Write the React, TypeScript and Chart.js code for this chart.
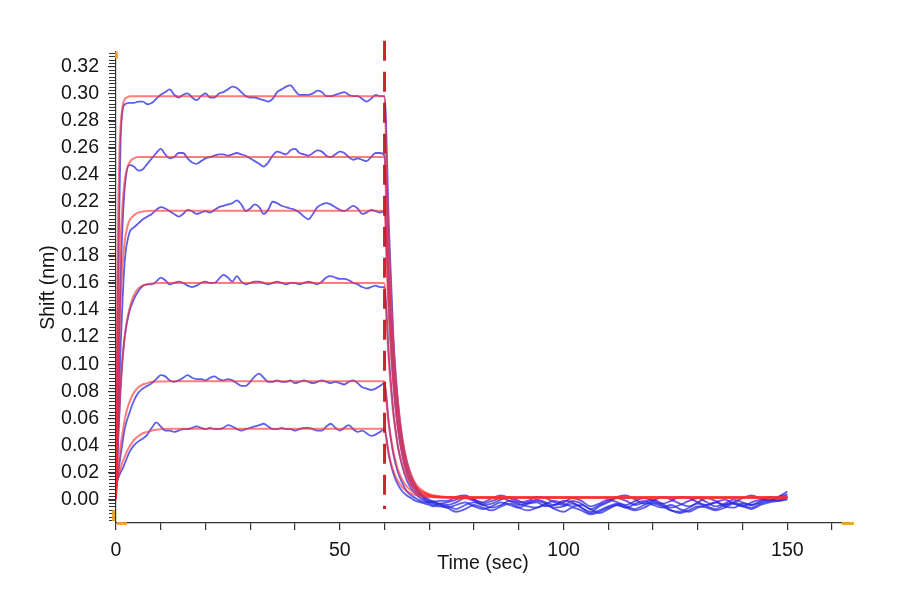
import React, { useEffect, useRef } from "react";
import { Chart, registerables } from "chart.js";

Chart.register(...registerables);

// ---- axis setup (values) ----
const X_MIN = 0;
const X_MAX = 164;
const Y_MIN = -0.0173;
const Y_MAX = 0.3306;
const X_LABELS = [0, 50, 100, 150];
const DISSOC_START = 60;
const DASH_TOP = 0.339;
const DASH_BOTTOM = -0.007;

// ---- raw sensorgram times (sec) ----
const RAW_T = [0,0.5,1,1.5,2,3,4,5,6,7,8,9,10,11,12,13,14,15,16,17,18,19,20,21,22,23,24,25,26,27,28,29,30,31,32,33,34,35,36,37,38,39,40,41,42,43,44,45,46,47,48,49,50,51,52,53,54,55,56,57,58,59,60,
  61,62,63,64,65,66,67,68,69,70,71,72,
  74,76,78,80,82,84,86,88,90,92,94,96,98,100,102,104,106,108,110,112,114,116,118,120,122,124,126,128,130,132,134,136,138,140,142,144,146,148,150];

// ---- raw responses (nm) ----
const RAW_A = [0.004,0.17,0.262,0.288,0.292,
  0.293,0.293,0.294,0.294,0.292,0.293,0.296,0.299,0.301,0.303,
  0.299,0.297,0.299,0.300,0.297,0.295,0.298,0.300,0.297,0.297,
  0.300,0.301,0.303,0.305,0.304,0.301,0.298,0.297,0.297,0.296,
  0.295,0.294,0.296,0.301,0.303,0.305,0.306,0.302,0.299,0.299,
  0.299,0.300,0.302,0.301,0.298,0.298,0.299,0.300,0.301,0.299,
  0.298,0.298,0.296,0.294,0.296,0.299,0.298,0.298,
  0.200,0.118,0.072,0.044,0.028,0.017,0.010,0.005,0.002,0.000,-0.002,-0.003,
  -0.004,-0.002,0.001,-0.001,-0.004,-0.003,0.000,0.002,-0.001,-0.003,-0.002,-0.005,-0.004,-0.001,-0.002,-0.006,-0.009,-0.005,-0.002,0.001,-0.001,-0.004,-0.002,0.000,-0.003,-0.006,-0.004,-0.001,0.001,-0.002,-0.005,-0.003,0.000,-0.002,-0.004,-0.001,0.001,0.002,0.004];

const RAW_B = [0.003,0.09,0.16,0.205,0.232,
  0.247,0.246,0.243,0.244,0.248,0.252,0.256,0.259,0.255,0.252,
  0.253,0.256,0.256,0.252,0.249,0.248,0.250,0.252,0.253,0.254,
  0.255,0.255,0.254,0.255,0.256,0.255,0.254,0.252,0.250,0.248,
  0.246,0.249,0.254,0.257,0.256,0.255,0.258,0.259,0.256,0.255,
  0.254,0.256,0.258,0.257,0.254,0.253,0.255,0.257,0.256,0.253,
  0.251,0.252,0.251,0.250,0.253,0.256,0.256,0.254,
  0.165,0.100,0.061,0.038,0.023,0.014,0.008,0.004,0.001,-0.001,-0.002,-0.001,
  -0.001,0.002,0.003,0.000,-0.002,0.001,0.003,0.001,-0.002,-0.001,0.002,0.001,-0.002,-0.004,-0.001,-0.003,-0.007,-0.004,-0.001,0.002,0.003,0.000,-0.003,-0.001,0.002,0.000,-0.003,-0.005,-0.002,0.001,-0.001,-0.004,-0.002,0.001,0.003,0.001,-0.001,0.002,0.006];

const RAW_C = [0.002,0.06,0.11,0.15,0.178,
  0.197,0.201,0.204,0.207,0.209,0.211,0.214,0.216,0.215,0.213,
  0.211,0.209,0.211,0.214,0.213,0.211,0.212,0.213,0.212,0.214,
  0.216,0.217,0.218,0.219,0.221,0.218,0.213,0.215,0.218,0.216,
  0.211,0.214,0.220,0.219,0.217,0.216,0.215,0.214,0.212,0.209,
  0.207,0.211,0.216,0.218,0.219,0.218,0.216,0.214,0.213,0.215,
  0.217,0.215,0.211,0.212,0.214,0.213,0.212,0.213,
  0.140,0.085,0.052,0.032,0.019,0.011,0.006,0.003,0.000,-0.002,-0.003,-0.004,
  -0.006,-0.004,-0.002,-0.005,-0.007,-0.005,-0.002,-0.004,-0.006,-0.003,-0.001,-0.003,-0.006,-0.005,-0.003,-0.006,-0.010,-0.008,-0.005,-0.003,-0.005,-0.007,-0.004,-0.002,-0.004,-0.008,-0.009,-0.006,-0.003,-0.005,-0.007,-0.004,-0.002,-0.004,-0.006,-0.003,-0.001,0.000,0.002];

const RAW_D = [0.002,0.045,0.08,0.105,0.122,
  0.139,0.148,0.154,0.158,0.159,0.159,0.161,0.164,0.162,0.159,
  0.160,0.161,0.160,0.158,0.157,0.158,0.160,0.161,0.160,0.160,
  0.163,0.166,0.164,0.161,0.165,0.161,0.159,0.160,0.161,0.161,
  0.160,0.159,0.160,0.161,0.160,0.159,0.160,0.160,0.159,0.160,
  0.161,0.160,0.159,0.161,0.164,0.165,0.164,0.163,0.163,0.162,
  0.160,0.159,0.157,0.156,0.157,0.158,0.157,0.157,
  0.105,0.064,0.039,0.024,0.014,0.008,0.004,0.001,-0.001,-0.003,-0.004,-0.005,
  -0.005,-0.007,-0.004,-0.002,-0.004,-0.006,-0.004,-0.001,-0.003,-0.005,-0.006,-0.003,-0.001,-0.003,-0.005,-0.004,-0.007,-0.010,-0.007,-0.004,-0.006,-0.003,-0.001,-0.004,-0.006,-0.004,-0.007,-0.009,-0.006,-0.004,-0.002,-0.005,-0.006,-0.003,-0.004,-0.002,0.000,-0.001,0.001];

const RAW_E = [0.006,0.02,0.032,0.043,0.053,
  0.064,0.073,0.079,0.082,0.084,0.086,0.089,0.092,0.091,0.088,
  0.087,0.088,0.090,0.092,0.090,0.089,0.089,0.088,0.090,0.091,
  0.089,0.088,0.089,0.088,0.086,0.084,0.084,0.087,0.091,0.093,
  0.090,0.087,0.087,0.088,0.087,0.087,0.088,0.086,0.087,0.088,
  0.087,0.086,0.087,0.088,0.087,0.086,0.087,0.086,0.085,0.087,
  0.088,0.086,0.083,0.082,0.081,0.082,0.084,0.086,
  0.055,0.033,0.020,0.012,0.006,0.003,0.001,-0.001,-0.002,-0.002,-0.001,-0.003,
  -0.002,0.000,0.002,0.000,-0.003,-0.001,0.001,-0.001,-0.004,-0.002,0.000,-0.002,-0.004,-0.002,0.001,-0.001,-0.005,-0.003,0.000,-0.002,-0.004,-0.001,0.001,-0.001,-0.003,-0.001,0.002,0.001,-0.002,-0.004,-0.002,0.000,-0.003,-0.005,-0.002,0.000,0.002,0.001,0.003];

const RAW_F = [0.012,0.016,0.020,0.023,0.027,
  0.035,0.040,0.043,0.045,0.048,0.053,0.057,0.054,0.051,0.051,
  0.050,0.051,0.052,0.052,0.053,0.054,0.053,0.052,0.053,0.052,
  0.052,0.053,0.055,0.054,0.052,0.051,0.052,0.053,0.054,0.055,
  0.056,0.054,0.052,0.052,0.053,0.052,0.052,0.051,0.052,0.053,
  0.053,0.052,0.051,0.051,0.054,0.056,0.053,0.051,0.053,0.055,
  0.052,0.050,0.051,0.049,0.047,0.048,0.050,0.052,
  0.032,0.019,0.011,0.006,0.003,0.001,-0.001,-0.002,-0.003,-0.004,-0.005,-0.003,
  -0.006,-0.009,-0.007,-0.004,-0.006,-0.008,-0.005,-0.003,-0.006,-0.008,-0.006,-0.004,-0.007,-0.009,-0.006,-0.008,-0.011,-0.009,-0.006,-0.004,-0.006,-0.008,-0.006,-0.003,-0.005,-0.008,-0.010,-0.008,-0.005,-0.006,-0.008,-0.006,-0.003,-0.005,-0.007,-0.004,-0.002,-0.001,0.000];

// ---- global fit curves ----
const FIT_T = [0,0.25,0.5,0.75,1,1.5,2,2.5,3,4,5,6,7,8,10,12,15,20,60,
  60.5,61,61.5,62,62.5,63,64,65,66,67,68,70,72,75,80,150];

const FIT_A = [0,0.14,0.215,0.255,0.275,0.291,0.296,0.297,0.298,0.298,0.298,0.298,0.298,0.298,0.298,0.298,0.298,0.298,0.298,
  0.235,0.185,0.146,0.115,0.091,0.072,0.045,0.028,0.018,0.0115,0.0078,0.004,0.0025,0.0018,0.0015,0.0015];
const FIT_B = [0,0.075,0.13,0.165,0.19,0.22,0.237,0.245,0.249,0.252,0.253,0.253,0.253,0.253,0.253,0.253,0.253,0.253,0.253,
  0.200,0.157,0.124,0.098,0.077,0.061,0.038,0.024,0.015,0.010,0.0068,0.0035,0.0022,0.0017,0.0015,0.0015];
const FIT_C = [0,0.05,0.09,0.12,0.145,0.175,0.192,0.201,0.206,0.210,0.212,0.2128,0.2132,0.2133,0.2133,0.2133,0.2133,0.2133,0.2133,
  0.169,0.133,0.105,0.083,0.066,0.052,0.033,0.020,0.013,0.0085,0.006,0.0032,0.0021,0.0016,0.0015,0.0015];
const FIT_D = [0.002,0.028,0.05,0.068,0.083,0.106,0.121,0.133,0.141,0.151,0.156,0.158,0.159,0.1597,0.160,0.160,0.160,0.160,0.160,
  0.127,0.100,0.079,0.062,0.050,0.039,0.025,0.016,0.0102,0.0068,0.0048,0.0027,0.0019,0.0016,0.0015,0.0015];
const FIT_E = [0.006,0.015,0.024,0.031,0.039,0.05,0.06,0.067,0.072,0.079,0.083,0.085,0.086,0.087,0.0873,0.0874,0.0874,0.0874,0.0874,
  0.069,0.055,0.044,0.035,0.028,0.022,0.0145,0.0095,0.0065,0.0046,0.0034,0.0022,0.0017,0.0015,0.0015,0.0015];
const FIT_F = [0.009,0.013,0.017,0.020,0.023,0.028,0.032,0.036,0.039,0.044,0.047,0.049,0.050,0.051,0.052,0.0523,0.0524,0.0524,0.0524,
  0.042,0.033,0.026,0.021,0.017,0.0135,0.009,0.0062,0.0044,0.0033,0.0026,0.0019,0.0016,0.0015,0.0015,0.0015];

const RAW_SERIES = [RAW_A, RAW_B, RAW_C, RAW_D, RAW_E, RAW_F];
const FIT_SERIES = [FIT_A, FIT_B, FIT_C, FIT_D, FIT_E, FIT_F];

const FONT = "'Liberation Sans', Arial, sans-serif";
const FONT_SIZE = 19.5;
const AXIS_COLOR = "#333333";
const TEXT_COLOR = "#151515";

const decorPlugin = {
  id: "decor",
  afterDatasetsDraw(chart: any) {
    const { ctx } = chart;
    const x = chart.scales.x;
    const y = chart.scales.y;
    const px = x.getPixelForValue(DISSOC_START);
    ctx.save();
    ctx.strokeStyle = "rgba(200,25,35,0.95)";
    ctx.lineWidth = 3;
    ctx.setLineDash([20, 11]);
    ctx.beginPath();
    ctx.moveTo(px, y.getPixelForValue(DASH_TOP));
    ctx.lineTo(px, y.getPixelForValue(DASH_BOTTOM));
    ctx.stroke();
    ctx.restore();
  },
  afterDraw(chart: any) {
    const { ctx, chartArea } = chart;
    const y = chart.scales.y;
    const left = chartArea.left;
    const bottom = chartArea.bottom;
    const top = chartArea.top;
    const right = chartArea.right;
    ctx.save();
    ctx.strokeStyle = AXIS_COLOR;
    ctx.lineWidth = 1.2;
    ctx.beginPath();
    const step = 0.0025;
    for (let k = Math.ceil(Y_MIN / step); k * step <= Y_MAX; k++) {
      const py = Math.round(y.getPixelForValue(k * step)) + 0.5;
      ctx.moveTo(left - 7, py);
      ctx.lineTo(left, py);
    }
    ctx.stroke();
    // orange range handles
    ctx.fillStyle = "rgba(240,160,40,0.9)";
    ctx.fillRect(left - 1, top, 3, 6);
    ctx.fillRect(left - 4, bottom - 13, 3, 11);
    ctx.fillRect(left + 1, bottom - 1, 10, 3);
    ctx.fillRect(right - 8, bottom - 1, 12, 3);
    ctx.restore();
  },
};

export default function App() {
  const canvasRef = useRef<HTMLCanvasElement | null>(null);

  useEffect(() => {
    const canvas = canvasRef.current;
    if (!canvas) return;

    const rawSets = RAW_SERIES.map((vals, i) => ({
      label: "raw " + (i + 1),
      data: RAW_T.map((t, j) => ({ x: t, y: vals[j] })),
      borderColor: "rgba(40,40,225,0.75)",
      borderWidth: 1.8,
      pointRadius: 0,
      fill: false,
      cubicInterpolationMode: "monotone" as const,
      order: 2,
    }));
    const fitSets = FIT_SERIES.map((vals, i) => ({
      label: "fit " + (i + 1),
      data: FIT_T.map((t, j) => ({ x: t, y: vals[j] })),
      borderColor: "rgba(255,45,45,0.62)",
      borderWidth: 2,
      pointRadius: 0,
      fill: false,
      cubicInterpolationMode: "monotone" as const,
      order: 1,
    }));

    const chart = new Chart(canvas, {
      type: "line",
      data: { datasets: [...fitSets, ...rawSets] as any },
      options: {
        animation: false,
        responsive: false,
        maintainAspectRatio: false,
        layout: { padding: { left: 0, top: 52, right: 50, bottom: 0 } },
        plugins: { legend: { display: false }, tooltip: { enabled: false } },
        scales: {
          x: {
            type: "linear",
            min: X_MIN,
            max: X_MAX,
            afterFit: (s: any) => {
              s.height = 77;
            },
            ticks: {
              stepSize: 10,
              includeBounds: false,
              autoSkip: false,
              maxRotation: 0,
              padding: 9,
              color: TEXT_COLOR,
              font: { family: FONT, size: FONT_SIZE },
              callback: (v: any) => (X_LABELS.includes(Number(v)) ? String(v) : ""),
            },
            grid: {
              display: true,
              drawOnChartArea: false,
              drawTicks: true,
              tickLength: 7,
              color: AXIS_COLOR,
              lineWidth: 1.2,
            },
            border: { display: true, color: AXIS_COLOR, width: 1.2 },
            title: {
              display: true,
              text: "Time (sec)",
              color: TEXT_COLOR,
              font: { family: FONT, size: FONT_SIZE },
              padding: { top: 0, bottom: 25 },
            },
          },
          y: {
            type: "linear",
            min: Y_MIN,
            max: Y_MAX,
            afterFit: (s: any) => {
              s.width = 116;
            },
            ticks: {
              stepSize: 0.02,
              includeBounds: false,
              autoSkip: false,
              padding: 9,
              color: TEXT_COLOR,
              font: { family: FONT, size: FONT_SIZE },
              callback: (v: any) => Number(v).toFixed(2),
            },
            grid: {
              display: true,
              drawOnChartArea: false,
              drawTicks: true,
              tickLength: 8,
              color: AXIS_COLOR,
              lineWidth: 1.2,
            },
            border: { display: true, color: AXIS_COLOR, width: 1.2 },
            title: {
              display: true,
              text: "Shift (nm)",
              color: TEXT_COLOR,
              font: { family: FONT, size: FONT_SIZE },
              padding: { top: 37, bottom: 0 },
            },
          },
        },
      },
      plugins: [decorPlugin],
    });

    return () => {
      chart.destroy();
    };
  }, []);

  return (
    <div style={{ position: "fixed", left: 0, top: 0, width: 900, height: 600, background: "#fff" }}>
      <canvas ref={canvasRef} width={900} height={600} style={{ width: 900, height: 600, display: "block" }} />
    </div>
  );
}
